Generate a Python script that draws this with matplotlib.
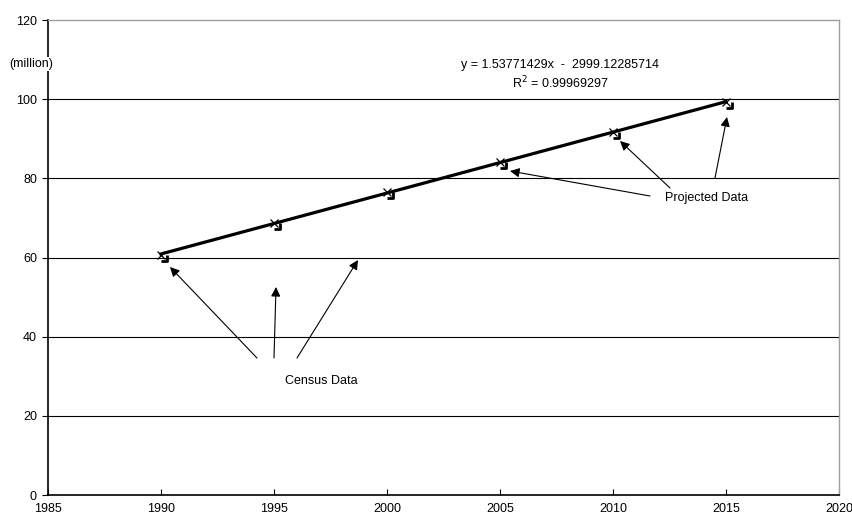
import numpy as np
import matplotlib
matplotlib.use("Agg")
import matplotlib.pyplot as plt
from matplotlib.path import Path

plt.rcParams['font.family'] = ['Liberation Sans', 'DejaVu Sans']

years = [1990, 1995, 2000, 2005, 2010, 2015]
population = [60.7, 68.6, 76.5, 84.1, 91.7, 99.2]
x_ticks = [1985, 1990, 1995, 2000, 2005, 2010, 2015, 2020]
y_ticks = [0, 20, 40, 60, 80, 100, 120]
equation_text = "y = 1.53771429x  -  2999.12285714"
r2_text = "R$^2$ = 0.99969297"

fig = plt.figure(figsize=(8.53, 5.17), dpi=100)
ax = fig.add_axes([48/853, 22/517, (839-48)/853, (495-20)/517])

ax.set_xlim(1985, 2020)
ax.set_ylim(0, 120)

for v in y_ticks[1:-1]:
    ax.axhline(v, color='black', lw=0.8, zorder=1)

# trend line
coef = np.polyfit(years, population, 1)
xs = np.array([years[0], years[-1]])
ax.plot(xs, np.polyval(coef, xs), color='black', lw=2.3, zorder=3)

# markers: x plus shadow L
ax.plot(years, population, linestyle='none', marker='x', ms=5.5, mew=0.9,
        color='black', zorder=4)
lpath = Path([(0.1, -1.3), (1.3, -1.3), (1.3, -0.1), (-1.3, 1.3)],
             [Path.MOVETO, Path.LINETO, Path.LINETO, Path.MOVETO])
ax.plot(years, population, linestyle='none', marker=lpath, ms=8, mew=2.0,
        mfc='none', color='black', zorder=4)

ax.set_xticks(x_ticks)
ax.set_yticks(y_ticks)
ax.set_xticklabels([str(t) for t in x_ticks], fontsize=9)
ax.set_yticklabels([str(t) for t in y_ticks], fontsize=9)
ax.tick_params(axis='x', direction='in', length=4, width=0.8, pad=6)
ax.tick_params(axis='y', direction='out', length=4, width=0.8, pad=4)

for s in ['left', 'bottom']:
    ax.spines[s].set_color('black')
    ax.spines[s].set_linewidth(1.2)
for s in ['top', 'right']:
    ax.spines[s].set_color('#a0a0a0')
    ax.spines[s].set_linewidth(1.0)

fig.text(31/853, 1 - 64/517, "(million)", fontsize=9, ha='center', va='center',
         bbox=dict(facecolor='white', edgecolor='none', pad=1), zorder=10)

def px(xp, yp):
    return (1985 + (xp - 48) / 113 * 5, (495 - yp) / (475 / 120))

ax.text(*px(560, 65), equation_text, fontsize=9, ha='center', va='center')
ax.text(*px(560, 83), r2_text, fontsize=9, ha='center', va='center')

arrow_kw = dict(arrowstyle='-|>', color='black', lw=0.8, mutation_scale=14,
                shrinkA=0, shrinkB=0)
census_arrows = [((257, 358), (170, 267)), ((274, 358), (276, 287)),
                 ((297, 358), (358, 260))]
for tail, tip in census_arrows:
    ax.annotate('', xy=px(*tip), xytext=px(*tail), arrowprops=arrow_kw)
ax.text(*px(285, 381), "Census Data", fontsize=9, ha='left', va='center')

proj_arrows = [((650, 196), (510, 171)), ((670, 188), (620, 141)),
               ((715, 178), (727, 117))]
for tail, tip in proj_arrows:
    ax.annotate('', xy=px(*tip), xytext=px(*tail), arrowprops=arrow_kw)
ax.text(*px(665, 198), "Projected Data", fontsize=9, ha='left', va='center')

fig.savefig("out.png", dpi=100)
